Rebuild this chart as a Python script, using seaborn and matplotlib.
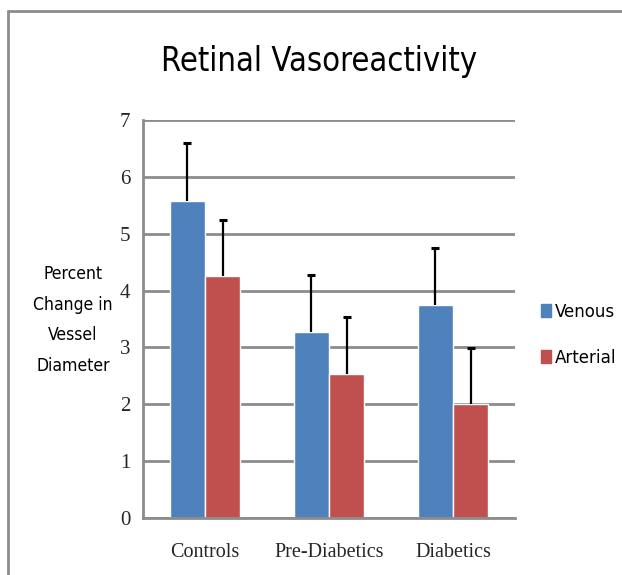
import matplotlib
matplotlib.use("Agg")
import matplotlib.pyplot as plt
import seaborn as sns
import pandas as pd
import numpy as np
from matplotlib.lines import Line2D
from matplotlib import font_manager

categories = ["Controls", "Pre-Diabetics", "Diabetics"]
series = ["Venous", "Arterial"]
venous = [5.58, 3.28, 3.75]
arterial = [4.25, 2.54, 2.00]
venous_err = [1.01, 1.00, 1.00]
arterial_err = [0.99, 0.99, 0.99]
yticks = [0, 1, 2, 3, 4, 5, 6, 7]

colors = {"Venous": "#4F81BD", "Arterial": "#C0504D"}

df = pd.DataFrame({
    "Group": categories * 2,
    "Series": ["Venous"] * 3 + ["Arterial"] * 3,
    "Value": venous + arterial,
    "Err": venous_err + arterial_err,
})

sns.set_theme(style="white")

# look for an upright condensed sans font if one is installed
cond = None
cands = []
for f in font_manager.fontManager.ttflist:
    st = str(f.stretch).lower()
    nm = f.name.lower()
    fn = f.fname.lower()
    if f.style != "normal":
        continue
    if f.weight not in (400, "normal", "regular"):
        continue
    if "mono" in nm or "serif" in nm or "oblique" in fn or "italic" in fn:
        continue
    if "condensed" in st or "narrow" in nm or "condensed" in fn or "narrow" in fn:
        cands.append(f)
if cands:
    cond = font_manager.FontProperties(fname=cands[0].fname)

sans = "Liberation Sans"
serif = "Liberation Serif"
if cond is not None:
    title_fp = cond.copy(); title_fp.set_size(23.5)
    ylab_fp = cond.copy(); ylab_fp.set_size(12.6)
    leg_fp = cond.copy(); leg_fp.set_size(13.3)
else:
    title_fp = font_manager.FontProperties(family=sans, size=23.5)
    ylab_fp = font_manager.FontProperties(family=sans, size=12.5)
    leg_fp = font_manager.FontProperties(family=sans, size=12)

fig = plt.figure(figsize=(6.22, 5.75), dpi=100)
ax = fig.add_axes([143 / 622, 1 - 518 / 575, 372 / 622, 398 / 575])

sns.barplot(data=df, x="Group", y="Value", hue="Series", order=categories,
            hue_order=series, palette=colors, width=0.565, ax=ax,
            errorbar=None, saturation=1, legend=False, zorder=2)

# error bars (upper only) from bar geometry
for cont, s in zip(ax.containers, series):
    sub = df[df.Series == s].set_index("Group").loc[categories]
    xs = [p.get_x() + p.get_width() / 2 for p in cont.patches]
    eb = ax.errorbar(xs, sub.Value.values,
                     yerr=[np.zeros(len(xs)), sub.Err.values],
                     fmt="none", ecolor="black", elinewidth=1.6, capsize=3,
                     capthick=2.2, zorder=3)
    caps = eb[1]
    if len(caps) >= 1:
        caps[0].set_visible(False)

ax.set_xlim(-0.5, 2.5)
ax.set_ylim(0, 7)
ax.set_yticks(yticks)
ax.set_yticklabels([str(t) for t in yticks], fontfamily=serif, fontsize=15)
ax.set_xticklabels(categories, fontfamily=serif, fontsize=14.5)
ax.tick_params(axis="y", length=0, pad=9)
ax.tick_params(axis="x", length=0, pad=18)
ax.set_xlabel("")
ax.set_ylabel("")
ax.yaxis.grid(True, color="#8c8c8c", linewidth=2)
ax.set_axisbelow(True)
for side in ["top", "right"]:
    ax.spines[side].set_visible(False)
for side in ["left", "bottom"]:
    ax.spines[side].set_color("#8c8c8c")
    ax.spines[side].set_linewidth(2)

fig.text(73 / 622, 1 - 320 / 575, "Percent\nChange in\nVessel\nDiameter",
         ha="center", va="center", fontproperties=ylab_fp, color="black",
         linespacing=1.9)

fig.text(319 / 622, 1 - 62 / 575, "Retinal Vasoreactivity", ha="center",
         va="center", fontproperties=title_fp, color="black")

handles = [plt.Rectangle((0, 0), 1, 1, color=colors[s]) for s in series]
fig.legend(handles, series, loc="center left",
           bbox_to_anchor=(541 / 622, 1 - 335 / 575), frameon=False,
           prop=leg_fp, handlelength=0.55, labelcolor="black",
           handleheight=0.75, handletextpad=0.2, labelspacing=1.5,
           borderpad=0, borderaxespad=0)

# outer frame (left and top edges visible)
fig.add_artist(Line2D([8 / 622, 8 / 622], [0, 1 - 11 / 575],
                      transform=fig.transFigure, color="#8c8c8c", linewidth=2))
fig.add_artist(Line2D([8 / 622, 1], [1 - 11 / 575, 1 - 11 / 575],
                      transform=fig.transFigure, color="#8c8c8c", linewidth=2))

fig.savefig("out.png", dpi=100)
